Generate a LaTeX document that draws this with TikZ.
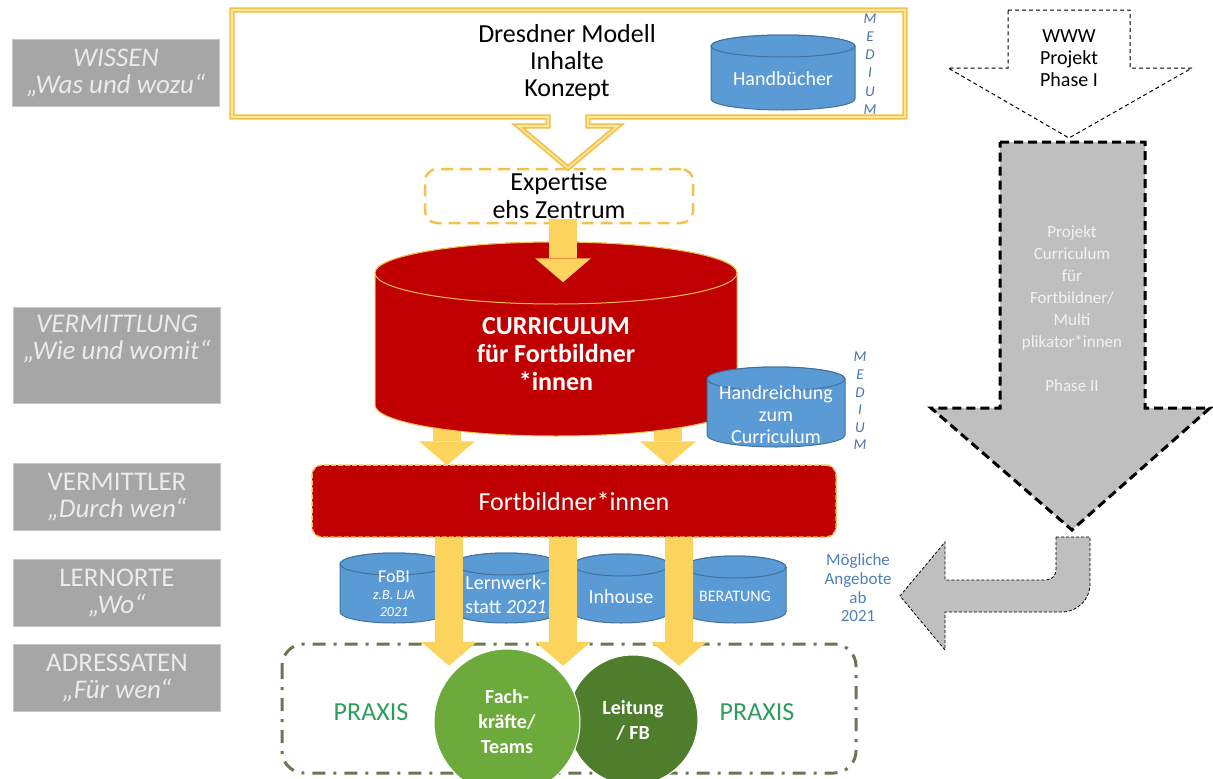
\documentclass[tikz,border=0pt]{standalone}
\usepackage{fontspec}
\setmainfont{Carlito}
\usetikzlibrary{arrows.meta,calc}

\definecolor{gold}{HTML}{F2C14E}
\definecolor{goldlight}{HTML}{FCE79A}
\definecolor{arrowyellow}{HTML}{FCD35C}
\definecolor{curred}{HTML}{C00000}
\definecolor{drumblue}{HTML}{5B9BD5}
\definecolor{drumline}{HTML}{41719C}
\definecolor{mediumblue}{HTML}{4A72AA}
\definecolor{offerblue}{HTML}{4F7FB8}
\definecolor{lightgreen}{HTML}{6DAA3C}
\definecolor{darkgreen}{HTML}{4E7D2B}
\definecolor{praxisgreen}{HTML}{2E9D5B}
\definecolor{frameolive}{HTML}{6B7552}
\definecolor{labelgray}{HTML}{A6A6A6}

% drum: centre x, top, bottom, half width, y radius, style
\newcommand{\drum}[6]{%
  \path[#6] (#1-#4,#2+#5) -- (#1-#4,#3-#5)
    arc[start angle=180,end angle=0,x radius=#4,y radius=#5]
    -- (#1+#4,#2+#5)
    arc[start angle=0,end angle=-180,x radius=#4,y radius=#5] -- cycle;
  \path[#6] (#1,#2+#5) ellipse[x radius=#4,y radius=#5];
}

\tikzset{
  leftbox/.style={fill=labelgray, draw=gray!45, line width=0.8pt, minimum width=207pt, minimum height=67pt,
    text=white!92!black, align=center, font=\fontsize{27}{27}\selectfont},
  lefttext/.style={text=white!92!black, align=center, font=\itshape\fontsize{27}{27}\selectfont},
  goldframe/.style={draw=gold, line width=1.8pt, double=goldlight, double distance=1.6pt},
  expertbox/.style={draw=gold, line width=2.5pt, dash pattern=on 12pt off 7pt, rounded corners=12pt,
    minimum width=268pt, minimum height=54pt, align=center, font=\fontsize{26}{28}\selectfont},
  fobox/.style={fill=curred, draw=gold, line width=1.5pt, dash pattern=on 5pt off 2pt, rounded corners=10pt,
    minimum width=524pt, minimum height=72pt, text=white, font=\fontsize{26}{28}\selectfont},
  reddrum/.style={fill=curred, draw=gold, line width=1pt},
  bluedrum/.style={fill=drumblue, draw=drumline, line width=1pt},
  drumtext/.style={text=white, align=center, font=\fontsize{20}{24}\selectfont},
  mediumtext/.style={text=mediumblue, align=center, font=\itshape\fontsize{15}{18.2}\selectfont},
  yarrow/.style={draw=arrowyellow, line width=28pt, -{Triangle[width=56pt,length=24pt,line width=0pt]}},
  frame/.style={draw=frameolive, line width=3pt, dash pattern=on 13pt off 8pt on 3pt off 8pt, rounded corners=22pt},
  person/.style={circle, draw=white, line width=1pt, text=white, align=center, font=\bfseries\fontsize{20}{25}\selectfont},
  praxis/.style={text=praxisgreen, font=\fontsize{26}{28}\selectfont},
  grayarrow/.style={fill=gray!50, draw=black, line width=3pt, dash pattern=on 9pt off 5pt},
}

\begin{document}
\begin{tikzpicture}[x=1pt,y=-1pt]
\useasboundingbox (0,0) rectangle (1213,779);

% Leitfragen
\node[leftbox, font=\itshape\fontsize{27}{27}\selectfont] (wissen) at (116,73) {WISSEN\\„Was und wozu“};
\node[leftbox, minimum height=96pt] (vermittlung) at (117,355) {};
\node[lefttext] (wiewomit) at (117,339) {VERMITTLUNG\\„Wie und womit“};
\node[leftbox] (vermittler) at (117,497) {VERMITTLER\\\textit{„Durch wen“}};
\node[leftbox] (lernorte) at (117,593) {LERNORTE\\\textit{„Wo“}};
\node[leftbox] (adressaten) at (117,678) {ADRESSATEN\\\textit{„Für wen“}};

% Wissen
\draw[goldframe, fill=white] (548,117) -- (232,117) -- (232,10) -- (905,10) -- (905,117) -- (588,117)
  -- (588,126) -- (618,126) -- (568,168) -- (518,126) -- (548,126) -- cycle;
\node[align=center, font=\fontsize{26}{27}\selectfont] (dresden) at (567,63) {Dresdner Modell\\Inhalte\\Konzept};
\drum{783}{35}{110}{72}{11}{bluedrum}
\node[drumtext] (handbuecher) at (783,79) {Handbücher};
\node[mediumtext] (medium1) at (870,64) {M\\E\\D\\I\\U\\M};
\node[expertbox] (expertise) at (559,196) {Expertise\\ehs Zentrum};

% Curriculum
\node[fobox] (fortbildner) at (574,501) {Fortbildner*innen};
\draw[yarrow] ($(fortbildner.north)+(-127,-50)$) -- ($(fortbildner.north)+(-127,1)$);
\draw[yarrow] ($(fortbildner.north)+(94,-50)$) -- ($(fortbildner.north)+(94,1)$);
\drum{556}{242}{436}{181}{31}{reddrum}
\node[text=white, align=center, font=\bfseries\fontsize{26}{28}\selectfont] (curriculum) at (556,354) {CURRICULUM\\für Fortbildner\\*innen};
\draw[yarrow] ($(expertise.south)+(4,-5)$) -- ($(expertise.south)+(4,58)$);
\drum{776}{367}{447}{69}{12}{bluedrum}
\node[drumtext, font=\fontsize{20}{22}\selectfont] (handreichung) at (776,415) {Handreichung\\zum\\Curriculum};
\node[mediumtext, font=\itshape\fontsize{15}{17.6}\selectfont] (medium2) at (860,401) {M\\E\\D\\I\\U\\M};

% Lernorte
\drum{394}{553}{623}{54}{11}{bluedrum}
\drum{506}{553}{623}{52}{11}{bluedrum}
\drum{621}{554}{623}{48}{11}{bluedrum}
\drum{735}{556}{623}{51}{11}{bluedrum}
\node[drumtext, font=\itshape\fontsize{14}{17}\selectfont] (fobi) at (394,594) {\upshape\fontsize{18}{17}\selectfont FoBI\\z.B. LJA\\2021};
\node[drumtext] (lernwerkstatt) at (506,595) {Lernwerk-\\statt \textit{2021}};
\node[drumtext] (inhouse) at (621,597) {Inhouse};
\node[drumtext, font=\fontsize{16}{20}\selectfont] (beratung) at (735,596) {BERATUNG};
\node[text=offerblue, align=center, font=\fontsize{17}{18.7}\selectfont] (angebote) at (858,588) {Mögliche\\Angebote\\ab\\2021};

% Adressaten
\draw[frame] (282,644) rectangle (856,773);
\node[person, fill=darkgreen, minimum size=130pt] (leitung) at (633,720) {Leitung\\/ FB};
\node[person, fill=lightgreen, minimum size=146pt] (fachkraefte) at (507,722) {Fach-\\kräfte/\\Teams};
\node[praxis] (praxisl) at (371,712) {PRAXIS};
\node[praxis] (praxisr) at (757,712) {PRAXIS};
\draw[yarrow] ($(fortbildner.south)+(-125,-1)$) -- ($(fortbildner.south)+(-125,128)$);
\draw[yarrow] ($(fortbildner.south)+(-11,-1)$) -- ($(fortbildner.south)+(-11,128)$);
\draw[yarrow] ($(fortbildner.south)+(105,-1)$) -- ($(fortbildner.south)+(105,128)$);

% Projektphasen
\draw[fill=white, line width=1pt, dash pattern=on 4pt off 3pt] (1008,10) -- (1130,10) -- (1130,68) -- (1192,68)
  -- (1069,138) -- (948,68) -- (1008,68) -- cycle;
\node[align=center, font=\fontsize{20}{22}\selectfont] (www) at (1069,58) {WWW\\Projekt\\Phase I};
\draw[grayarrow] (1000,142) -- (1145,142) -- (1145,408) -- (1210,408) -- (1072,530) -- (931,408) -- (1000,408) -- cycle;
\node[text=white!95!black, align=center, font=\fontsize{17}{22}\selectfont] (phase2) at (1072,309)
  {Projekt\\Curriculum\\für\\Fortbildner/\\Multi\\plikator*innen\\[22pt]Phase II};
\draw[fill=gray!50, draw=black, line width=0.8pt, dash pattern=on 3pt off 2pt] (1056,537) -- (1090,537) -- (1090,584)
  arc[start angle=0,end angle=90,radius=28] -- (945,612) -- (945,650) -- (900,596) -- (945,542) -- (945,580)
  -- (1046,580) arc[start angle=90,end angle=0,radius=10] -- cycle;
\end{tikzpicture}
\end{document}
